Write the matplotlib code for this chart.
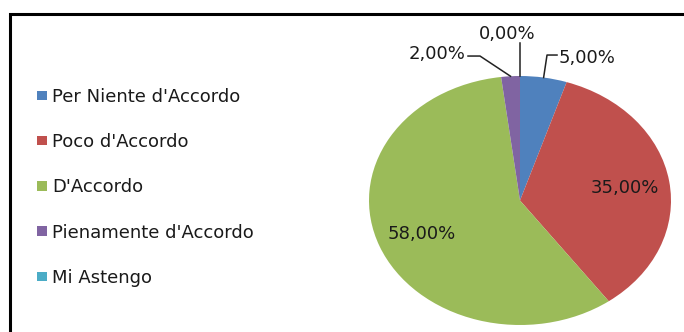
import numpy as np
import matplotlib
matplotlib.use("Agg")
import matplotlib.pyplot as plt
from matplotlib.patches import Rectangle
from matplotlib.lines import Line2D
from matplotlib.transforms import IdentityTransform

# --- data -------------------------------------------------------------
categories = ["Per Niente d'Accordo", "Poco d'Accordo", "D'Accordo",
              "Pienamente d'Accordo", "Mi Astengo"]
percentages = [5.0, 35.0, 58.0, 2.0, 0.0]
colors = ["#4F81BD", "#C0504D", "#9BBB59", "#8064A2", "#4BACC6"]

TEXT = "#1a1a1a"
FS = 13

W, H = 684, 332
fig = plt.figure(figsize=(W / 100, H / 100), dpi=100)
plt.rcParams["font.family"] = ["DejaVu Sans"]

# outer chart frame (runs off the right and bottom edges)
frame = Rectangle((9.5 / W, -0.1), 1.2, (H - 13.5) / H + 0.1,
                  transform=fig.transFigure, fill=False,
                  edgecolor="black", linewidth=2.2, clip_on=False)
fig.add_artist(frame)

# pie axes (slightly wider than tall)
px0, px1, py0, py1 = 369, 671, 76, 325
ax = fig.add_axes([px0 / W, (H - py1) / H, (px1 - px0) / W, (py1 - py0) / H])
wedges, _ = ax.pie(percentages, colors=colors, startangle=90,
                   counterclock=False, radius=1.0,
                   wedgeprops=dict(linewidth=0, antialiased=True))
ax.set_aspect("auto")
ax.set_xlim(-1, 1)
ax.set_ylim(-1, 1)
ax.axis("off")


def fmt(v):
    return f"{v:.2f}%".replace(".", ",")


def mid_angle(w):
    return np.deg2rad((w.theta1 + w.theta2) / 2.0)


# labels inside the two large slices
for idx in (1, 2):
    a = mid_angle(wedges[idx])
    r = 0.70
    ax.text(r * np.cos(a), r * np.sin(a) - 0.01, fmt(percentages[idx]),
            ha="center", va="center", fontsize=FS, color=TEXT)

# labels outside with leader lines (offsets in pixels from the slice edge)
outside = {
    0: dict(path=[(3.4, 22.5), (13.4, 22.5)], text=(15.4, 14.5), ha="left"),
    3: dict(path=[(-30.5, 20.2), (-42.5, 20.2)], text=(-45.5, 17.2), ha="right"),
    4: dict(path=[(0.0, 33.0)], text=(-13.0, 37.0), ha="center"),
}
fig.canvas.draw()
for idx, spec in outside.items():
    a = mid_angle(wedges[idx])
    ex, ey = ax.transData.transform((np.cos(a), np.sin(a)))
    xs = [ex] + [ex + dx for dx, _ in spec["path"]]
    ys = [ey] + [ey + dy for _, dy in spec["path"]]
    fig.add_artist(Line2D(xs, ys, transform=IdentityTransform(),
                          color="#222222", linewidth=1.1))
    tx, ty = spec["text"]
    fig.text(ex + tx, ey + ty, fmt(percentages[idx]), transform=IdentityTransform(),
             ha=spec["ha"], va="baseline", fontsize=FS, color=TEXT)

# legend on the left
leg = fig.legend(wedges, categories, loc="upper left",
                 bbox_to_anchor=(37 / W, (H - 88) / H),
                 frameon=False, fontsize=FS, labelcolor=TEXT,
                 handlelength=0.56, handleheight=0.43, handletextpad=0.26,
                 labelspacing=1.505, borderpad=0, borderaxespad=0)

fig.savefig("out.png", dpi=100)
